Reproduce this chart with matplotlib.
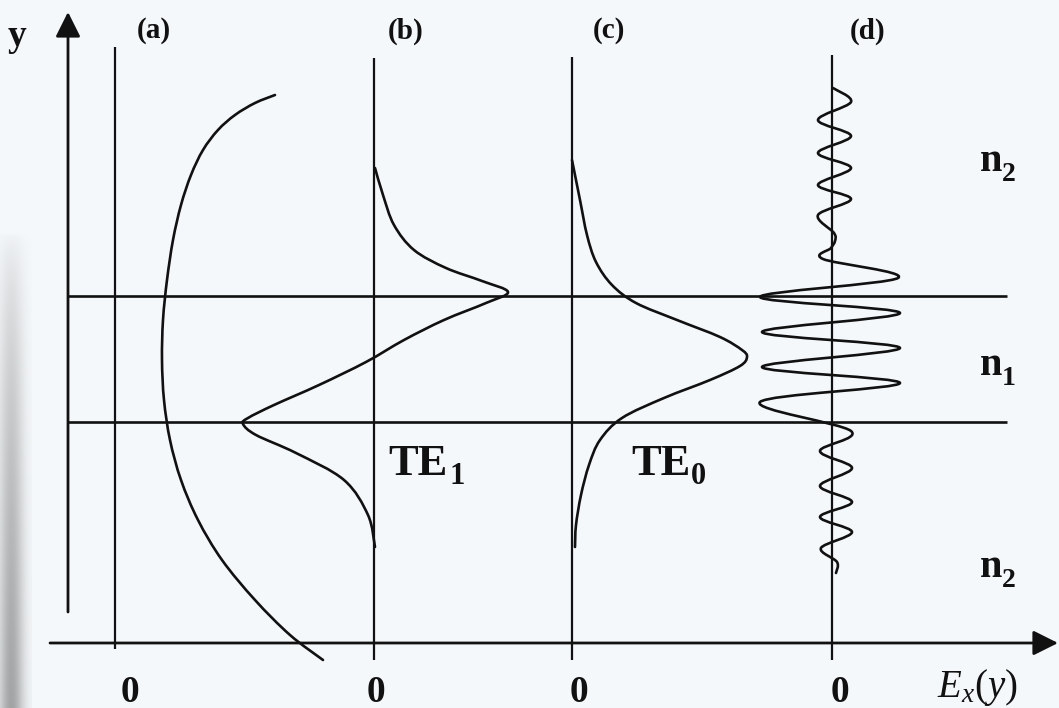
import numpy as np
import matplotlib

matplotlib.use("Agg")
import matplotlib.pyplot as plt
from matplotlib.path import Path
from matplotlib.patches import PathPatch

# canvas is laid out in page units (x to the right, y downwards)
W, H = 1059, 708

# zero line of each field panel and the two core/cladding interfaces
panel_names = ["(a)", "(b)", "(c)", "(d)"]
panel_x = [115, 374, 572, 832]
panel_top = [47, 58, 57, 55]
panel_bottom = [649, 660, 660, 660]
interface_y = [296, 422]

# field profiles: height y and field value E (offset from the panel's zero line)
a_y = [95, 103, 115, 130, 150, 175, 205, 240, 280, 320, 360, 400, 440, 480, 520, 560, 600, 635, 660]
a_E = [160, 140, 120, 103, 88, 76, 66, 58, 52, 48, 47, 49, 55, 66, 83, 107, 140, 175, 208]

te1_y = [168, 195, 225, 250, 268, 281, 292, 303, 320, 340, 362, 385, 405, 418, 424, 435, 453, 480, 515, 547]
te1_E = [1, 9, 20, 40, 72, 108, 134, 112, 70, 30, -8, -55, -100, -126, -131, -118, -78, -30, -6, 1]

te0_y = [160, 200, 235, 262, 285, 303, 320, 337, 350, 357, 366, 380, 398, 418, 440, 465, 495, 525, 547]
te0_E = [0, 8, 15, 24, 40, 64, 105, 148, 170, 175, 168, 138, 92, 50, 28, 17, 9, 4, 3]

d_y = [88, 102, 120, 136, 153, 168, 185, 199, 215, 233, 241, 248, 259,
       278, 297, 313, 332, 348, 367, 383, 402, 431, 451, 468, 486, 502, 517, 532, 548, 562, 573]
d_E = [1, 19, -14, 19, -14, 19, -14, 19, -14, 2, 3, -1, -9,
       66, -72, 68, -70, 68, -70, 68, -72, 19, -12, 20, -12, 20, -12, 20, -11, 5, 4]

# refractive index labels: (subscript, baseline y)
n_labels = [("2", 171), ("1", 375), ("2", 577)]
te_labels = [("1", 388, 449), ("0", 631, 691)]
zero_x = [130, 376, 579, 840]

ink = "#111111"
plt.rcParams["mathtext.fontset"] = "custom"
plt.rcParams["mathtext.rm"] = "Liberation Serif"
plt.rcParams["mathtext.bf"] = "Liberation Serif:bold"
plt.rcParams["mathtext.it"] = "Liberation Serif:italic"
plt.rcParams["font.family"] = "Liberation Serif"


def smooth_path(xs, ys):
    # Catmull-Rom through the points, handed to matplotlib as cubic Beziers
    pts = np.column_stack([xs, ys]).astype(float)
    ext = np.vstack([pts[0], pts, pts[-1]])
    verts = [pts[0]]
    codes = [Path.MOVETO]
    for i in range(1, len(ext) - 2):
        p0, p1, p2, p3 = ext[i - 1], ext[i], ext[i + 1], ext[i + 2]
        verts += [p1 + (p2 - p0) / 6.0, p2 - (p3 - p1) / 6.0, p2]
        codes += [Path.CURVE4] * 3
    return Path(verts, codes)


fig = plt.figure(figsize=(W / 100, H / 100), dpi=100)
fig.patch.set_facecolor("#f5f8fa")
ax = fig.add_axes([0, 0, 1, 1])
ax.set_xlim(0, W)
ax.set_ylim(H, 0)
ax.axis("off")

# shadow of the page fold along the left edge
gx = np.linspace(0, 1, 40)
gy = np.linspace(0, 1, 100)
shade = np.exp(-((gx - 0.35) / 0.4) ** 2)[None, :] * np.clip(gy, 0, 1)[:, None] ** 0.6
rgba = np.zeros((100, 40, 4))
rgba[..., :3] = 0.5
rgba[..., 3] = 0.7 * shade
ax.imshow(rgba, extent=(0, 32, H, 230), aspect="auto", zorder=0, interpolation="bilinear")

# axes with arrow heads
ax.annotate("", xy=(68, 12), xytext=(68, 612),
            arrowprops=dict(arrowstyle="-|>", mutation_scale=38, lw=2, color=ink,
                            shrinkA=0, shrinkB=0))
ax.annotate("", xy=(1058, 643), xytext=(50, 643),
            arrowprops=dict(arrowstyle="-|>", mutation_scale=38, lw=2, color=ink,
                            shrinkA=0, shrinkB=0))

for yi in interface_y:
    ax.plot([68, 1007], [yi, yi], color=ink, lw=1.9, solid_capstyle="butt")

for x0, top, bot in zip(panel_x, panel_top, panel_bottom):
    ax.plot([x0, x0], [top, bot], color=ink, lw=1.6, solid_capstyle="butt")

profiles = [(a_y, a_E), (te1_y, te1_E), (te0_y, te0_E), (d_y, d_E)]
for x0, (ys, es) in zip(panel_x, profiles):
    xs = x0 + np.asarray(es, dtype=float)
    ax.add_patch(PathPatch(smooth_path(xs, ys), fill=False, lw=1.9, ec=ink,
                           capstyle="round", joinstyle="round"))

# labels
bold = dict(fontweight="bold", color=ink, va="baseline")
ax.text(17, 46, "y", fontsize=27, ha="center", **bold)
label_x = [154, 406, 609, 868]
for name, lx in zip(panel_names, label_x):
    ax.text(lx, 31, name, fontsize=21, ha="center", va="center", fontweight="bold", color=ink)

for zx in zero_x:
    ax.text(zx, 702, "0", fontsize=27, ha="center", **bold)

for sub, tx, sx in te_labels:
    ax.text(tx, 475, "TE", fontsize=32, ha="left", **bold)
    ax.text(sx, 484, sub, fontsize=22, ha="left", **bold)

for sub, ny in n_labels:
    ax.text(980, ny, "n", fontsize=29, ha="left", **bold)
    ax.text(1002, ny + 10, sub, fontsize=20, ha="left", **bold)

ax.text(937, 697, r"$E_x\mathit{(y)}$", fontsize=28, ha="left", va="baseline", color=ink)

fig.savefig("out.png", dpi=100, facecolor=fig.get_facecolor())
